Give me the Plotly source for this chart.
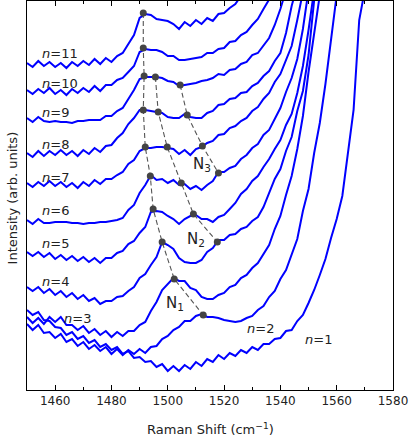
import plotly.graph_objects as go

# Raman shift grid (cm^-1), spectra sampled every 2 cm^-1
shift = list(range(1450, 1572, 2))

# offset intensities (arb. units), n = 1 ... 11
n1 = [80, 75, 78, 70, 69, 63, 62, 55, 58, 51, 54, 47, 50, 43, 46, 40, 43, 36, 39, 32,
      33, 28, 29, 23, 26, 19, 24, 19, 25, 21, 28, 24, 31, 28, 35, 31, 37, 34, 40, 37,
      43, 40, 46, 46, 51, 52, 59, 60, 69, 75, 87, 100, 115, 131, 152, 171, 194, 235, 280, 370, 400]
n2 = [66, 60, 65, 57, 58, 52, 56, 48, 51, 44, 48, 41, 45, 39, 43, 36, 41, 35, 40, 36,
      41, 37, 43, 44, 51, 54, 60, 63, 69, 69, 74, 76, 73, 73, 72, 70, 69, 68, 69, 72,
      74, 80, 84, 93, 99, 111, 120, 136, 151, 179, 201, 237, 267, 306, 350, 395]
n3 = [73, 67, 72, 66, 73, 68, 73, 65, 65, 60, 64, 57, 61, 55, 59, 53, 58, 54, 59, 59,
      65, 68, 79, 88, 100, 106, 112, 109, 109, 102, 100, 93, 91, 91, 95, 97, 103, 105, 112, 115,
      122, 127, 136, 145, 161, 174, 195, 214, 241, 274, 318, 355, 395]
n4 = [103, 99, 103, 97, 101, 95, 99, 93, 97, 91, 95, 89, 92, 86, 89, 89, 93, 94, 99, 103,
      112, 116, 125, 133, 148, 145, 141, 132, 128, 127, 127, 130, 138, 142, 150, 150, 155, 156, 161, 163,
      169, 173, 183, 197, 211, 221, 239, 253, 279, 299, 335, 390, 420]
n5 = [138, 134, 138, 133, 137, 131, 135, 130, 134, 129, 133, 128, 132, 127, 132, 132, 137, 139, 146, 149,
      157, 163, 178, 179, 178, 174, 171, 166, 171, 174, 175, 171, 171, 168, 173, 175, 181, 187, 196, 201,
      209, 214, 223, 231, 241, 250, 265, 276, 297, 324, 360, 400]
n6 = [170, 166, 171, 167, 167, 168, 168, 168, 167, 167, 166, 167, 167, 168, 168, 169, 170, 172, 180, 185,
      197, 205, 215, 210, 211, 207, 210, 205, 206, 201, 204, 200, 205, 209, 218, 218, 222, 224, 231, 235,
      242, 246, 255, 260, 271, 282, 298, 312, 331, 361, 400]
n7 = [207, 203, 208, 204, 209, 204, 208, 203, 207, 202, 208, 204, 210, 206, 211, 211, 215, 218, 226, 230,
      239, 242, 242, 243, 243, 242, 241, 236, 240, 235, 241, 243, 247, 249, 255, 256, 262, 264, 269, 272,
      279, 283, 291, 297, 308, 316, 331, 344, 370, 398]
n8 = [237, 233, 239, 234, 239, 235, 240, 235, 239, 234, 240, 236, 242, 238, 244, 245, 252, 257, 266, 272,
      280, 280, 279, 278, 277, 273, 272, 272, 276, 273, 272, 272, 277, 279, 285, 286, 291, 292, 297, 298,
      304, 307, 314, 319, 329, 337, 357, 384, 405]
n9 = [272, 268, 273, 269, 268, 269, 268, 268, 267, 269, 269, 270, 270, 270, 274, 274, 279, 282, 291, 300,
      311, 313, 313, 313, 312, 309, 308, 304, 305, 306, 307, 309, 310, 312, 316, 315, 320, 321, 326, 328,
      335, 337, 345, 352, 365, 381, 400]
n10 = [300, 296, 301, 297, 302, 296, 300, 295, 301, 297, 302, 298, 304, 299, 305, 305, 310, 312, 318, 324,
       338, 341, 340, 340, 338, 334, 334, 330, 330, 331, 332, 333, 337, 337, 341, 342, 348, 349, 355, 358,
       365, 371, 381, 390, 400]
n11 = [327, 323, 329, 324, 328, 323, 327, 322, 328, 324, 329, 325, 331, 326, 332, 328, 334, 337, 346, 355,
       372, 376, 375, 371, 370, 369, 366, 361, 368, 364, 370, 366, 372, 369, 376, 377, 382, 386, 394, 399]
spectra = [n1, n2, n3, n4, n5, n6, n7, n8, n9, n10, n11]

# fitted peak positions (shift, intensity) for the three modes
n1_peak_x = [1491.3, 1491.3, 1491.6, 1491.3, 1492.0, 1493.8, 1494.8, 1498.0, 1502.3, 1512.6]
n1_peak_y = [377, 342, 314, 280, 243, 214, 181, 148, 111, 75]
n2_peak_x = [1495.6, 1496.6, 1499.8, 1504.8, 1509.1, 1517.6]
n2_peak_y = [313, 278, 243, 207, 176, 148]
n3_peak_x = [1504.4, 1506.9, 1512.3, 1518.0]
n3_peak_y = [305, 275, 244, 217]

# curve labels
label_num = ["1", "2", "3", "4", "5", "6", "7", "8", "9", "10", "11"]
label_x = [1547.9, 1527.6, 1462.5, 1454.6, 1454.6, 1454.6, 1454.6, 1454.6, 1454.6, 1454.6, 1454.6]
label_y = [51, 62, 72, 109, 147, 180, 213, 246, 278, 307, 337]

mode_text = ["N<sub>1</sub>", "N<sub>2</sub>", "N<sub>3</sub>"]
mode_x = [1502.7, 1510.1, 1512.3]
mode_y = [87, 151, 226]

FONT = "DejaVu Sans"

fig = go.Figure()

for vals in spectra:
    fig.add_trace(go.Scatter(
        x=shift[:len(vals)], y=vals, mode="lines",
        line=dict(color="#0000ff", width=2),
        showlegend=False, hoverinfo="skip"))

for px_, py_ in [(n1_peak_x, n1_peak_y), (n2_peak_x, n2_peak_y), (n3_peak_x, n3_peak_y)]:
    fig.add_trace(go.Scatter(
        x=px_, y=py_, mode="lines+markers",
        line=dict(color="#555555", width=1.1, dash="5px,3px"),
        marker=dict(color="#444444", size=7),
        showlegend=False, hoverinfo="skip"))

for num, x, y in zip(label_num, label_x, label_y):
    fig.add_annotation(x=x, y=y, text="<i>n</i>=" + num, showarrow=False,
                       xanchor="left", yanchor="middle",
                       font=dict(family=FONT, size=13, color="#222222"))

for t, x, y in zip(mode_text, mode_x, mode_y):
    fig.add_annotation(x=x, y=y, text=t, showarrow=False,
                       xanchor="center", yanchor="middle",
                       font=dict(family=FONT, size=15, color="#222222"))

fig.add_annotation(xref="paper", yref="paper", x=0.5, y=-0.1,
                   text="Raman Shift (cm<sup>−1</sup>)", showarrow=False,
                   xanchor="center", yanchor="middle",
                   font=dict(family=FONT, size=13, color="#222222"))
fig.add_annotation(xref="paper", yref="paper", x=-0.041, y=0.495,
                   text="Intensity (arb. units)", showarrow=False, textangle=-90,
                   xanchor="center", yanchor="middle",
                   font=dict(family=FONT, size=13, color="#222222"))

fig.update_xaxes(range=[1450, 1580], dtick=20, tick0=1460, ticks="inside", ticklen=5,
                 tickcolor="black", showline=True, linecolor="black", linewidth=1,
                 mirror="ticks", showgrid=False, zeroline=False,
                 minor=dict(dtick=10, ticks="inside", ticklen=3, tickcolor="black"),
                 tickfont=dict(family=FONT, size=12, color="#222222"))
fig.update_yaxes(range=[0, 389], showticklabels=False, ticks="", showline=True,
                 linecolor="black", linewidth=1, mirror=True, showgrid=False,
                 zeroline=False)

fig.update_layout(width=415, height=443, margin=dict(l=27, r=22, t=1, b=53),
                  plot_bgcolor="white", paper_bgcolor="white")

# drop the page's default body margin so the figure sits at the window corner
fig.write_html("out.html", config={"displayModeBar": False},
               post_script="document.body.style.margin='0px';")
